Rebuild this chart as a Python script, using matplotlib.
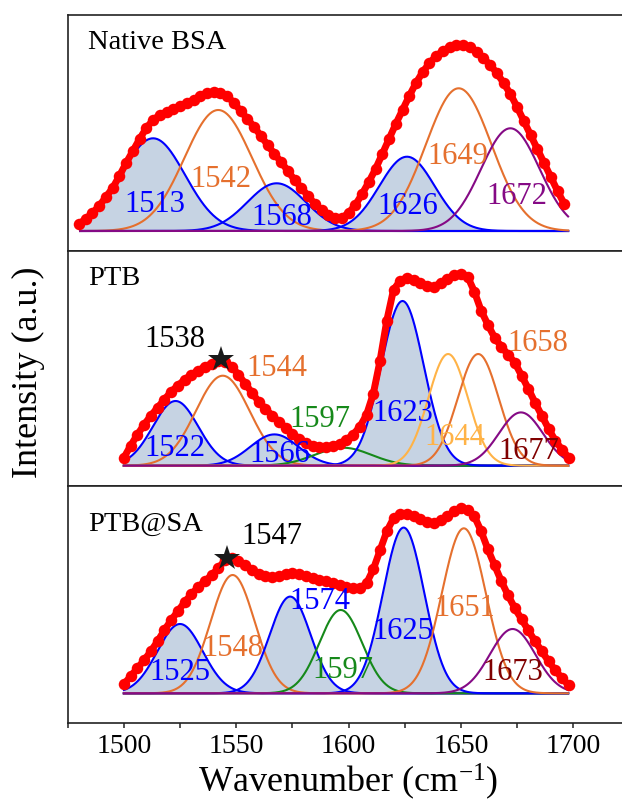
import numpy as np
import matplotlib.pyplot as plt
from matplotlib.ticker import MultipleLocator

plt.rcParams['font.family'] = 'Liberation Serif'
plt.rcParams['mathtext.fontset'] = 'custom'
plt.rcParams['mathtext.rm'] = 'Liberation Serif'
plt.rcParams['mathtext.default'] = 'regular'

BLUE = '#0000ff'
FILL = '#c6d3e3'
ORANGE = '#e5702e'
LORANGE = '#ffb347'
GREEN = '#16891a'
PURPLE = '#850a85'
DKRED = '#800000'

# ---- Native BSA ----
wn1 = np.arange(1480, 1697, 3)
red1 = [0.07, 0.12, 0.18, 0.25, 0.34, 0.43, 0.55, 0.68, 0.80, 0.92, 1.03, 1.11, 1.16,
        1.19, 1.22, 1.25, 1.28, 1.31, 1.35, 1.38, 1.39, 1.38, 1.35, 1.28, 1.20, 1.12,
        1.04, 0.95, 0.86, 0.77, 0.69, 0.60, 0.51, 0.43, 0.35, 0.27, 0.21, 0.16, 0.13,
        0.13, 0.18, 0.26, 0.37, 0.49, 0.62, 0.77, 0.92, 1.07, 1.21, 1.35, 1.48, 1.59,
        1.68, 1.75, 1.80, 1.84, 1.86, 1.86, 1.84, 1.79, 1.73, 1.66, 1.58, 1.48, 1.37,
        1.24, 1.10, 0.96, 0.82, 0.68, 0.54, 0.40, 0.27]
cen1 = [1513, 1542, 1568, 1626, 1649, 1672]
hgt1 = [0.927, 1.21, 0.477, 0.743, 1.427, 1.027]
sig1 = [14.2, 15.0, 13.0, 12.3, 14.6, 13.0]
col1 = [BLUE, ORANGE, BLUE, BLUE, ORANGE, PURPLE]
lab1 = ['1513', '1542', '1568', '1626', '1649', '1672']
labx1 = [1513.8, 1543.3, 1570.4, 1626.2, 1648.5, 1674.9]
laby1 = [0.26, 0.51, 0.13, 0.24, 0.74, 0.34]
labc1 = [BLUE, ORANGE, BLUE, BLUE, ORANGE, PURPLE]

# ---- PTB ----
wn2 = np.arange(1500, 1699, 3)
red2 = [0.08, 0.20, 0.31, 0.41, 0.50, 0.58, 0.66, 0.74, 0.80, 0.86, 0.91, 0.95, 0.99,
        1.02, 1.05, 1.04, 0.99, 0.91, 0.82, 0.73, 0.64, 0.57, 0.50, 0.44, 0.38, 0.32,
        0.27, 0.23, 0.20, 0.19, 0.19, 0.20, 0.22, 0.26, 0.31, 0.39, 0.51, 0.72, 1.05,
        1.45, 1.76, 1.85, 1.88, 1.86, 1.83, 1.80, 1.79, 1.83, 1.87, 1.91, 1.92, 1.89,
        1.74, 1.55, 1.41, 1.28, 1.19, 1.11, 1.03, 0.90, 0.77, 0.63, 0.50, 0.37, 0.25,
        0.16, 0.08]
cen2 = [1523, 1544, 1567, 1597.5, 1624, 1644.3, 1657.7, 1676.7]
hgt2 = [0.647, 0.90, 0.313, 0.18, 1.647, 1.117, 1.117, 0.533]
sig2 = [10.1, 12.0, 10.7, 12.6, 9.5, 8.8, 9.1, 9.8]
col2 = [BLUE, ORANGE, BLUE, GREEN, BLUE, LORANGE, ORANGE, PURPLE]
lab2 = ['1538', '1544', '1522', '1566', '1597', '1623', '1644', '1658', '1677']
labx2 = [1522.7, 1568.0, 1522.7, 1569.4, 1587.2, 1624.3, 1647.3, 1684.4, 1680.0]
laby2 = [1.26, 0.97, 0.17, 0.11, 0.46, 0.52, 0.28, 1.22, 0.14]
labc2 = ['black', ORANGE, BLUE, BLUE, GREEN, BLUE, LORANGE, ORANGE, DKRED]
star2 = (1543.1, 1.067)

# ---- PTB@SA ----
wn3 = np.arange(1500, 1699, 3)
red3 = [0.09, 0.17, 0.25, 0.33, 0.42, 0.52, 0.63, 0.73, 0.82, 0.91, 0.99, 1.06, 1.12,
        1.18, 1.25, 1.33, 1.35, 1.32, 1.28, 1.23, 1.19, 1.17, 1.16, 1.17, 1.19, 1.20,
        1.19, 1.17, 1.15, 1.13, 1.12, 1.10, 1.08, 1.06, 1.05, 1.05, 1.10, 1.24, 1.43,
        1.62, 1.75, 1.79, 1.79, 1.77, 1.74, 1.71, 1.70, 1.73, 1.77, 1.82, 1.85, 1.83,
        1.77, 1.62, 1.44, 1.28, 1.12, 0.98, 0.85, 0.74, 0.63, 0.52, 0.42, 0.32, 0.23,
        0.15, 0.08]
cen3 = [1525, 1548.4, 1574, 1596.5, 1624.5, 1651.3, 1673]
hgt3 = [0.693, 1.183, 0.967, 0.833, 1.657, 1.65, 0.643]
sig3 = [10.1, 9.8, 9.1, 9.5, 9.2, 9.8, 10.1]
col3 = [BLUE, ORANGE, BLUE, GREEN, BLUE, ORANGE, PURPLE]
lab3 = ['1547', '1548', '1525', '1574', '1597', '1625', '1651', '1673']
labx3 = [1565.7, 1548.6, 1524.9, 1587.2, 1597.6, 1624.3, 1651.8, 1673.3]
laby3 = [1.57, 0.45, 0.21, 0.92, 0.23, 0.62, 0.85, 0.21]
labc3 = ['black', ORANGE, BLUE, BLUE, GREEN, BLUE, ORANGE, DKRED]
star3 = (1545.7, 1.35)

titles = ['Native BSA', 'PTB', 'PTB@SA']


def gauss(x, c, h, s):
    return h * np.exp(-(x - c) ** 2 / (2 * s * s))


W, H = 622, 806
fig = plt.figure(figsize=(W / 100, H / 100), dpi=100)

# panel boxes in pixels: (top, bottom), plus ylim and title height
boxes = [(15, 250.7), (250.7, 486), (486, 723)]
ylims = [(-0.197, 2.16), (-0.203, 2.15), (-0.297, 2.073)]
title_y = [0.884, 0.883, 0.84]
x_left_px = 67.7
x_scale = 2.247  # px per cm-1
xmin, xmax = 1475, 1725

panels = [
    (wn1, red1, cen1, hgt1, sig1, col1, lab1, labx1, laby1, labc1, None, 1480.5),
    (wn2, red2, cen2, hgt2, sig2, col2, lab2, labx2, laby2, labc2, star2, 1500),
    (wn3, red3, cen3, hgt3, sig3, col3, lab3, labx3, laby3, labc3, star3, 1500),
]

for i, (wn, red, cen, hgt, sig, col, lab, labx, laby, labc, star, x0) in enumerate(panels):
    top, bot = boxes[i]
    rect = [x_left_px / W, 1 - bot / H, (xmax - xmin) * x_scale / W, (bot - top) / H]
    ax = fig.add_axes(rect)
    xg = np.linspace(x0, 1697.7, 800)

    for c, h, s, cc in zip(cen, hgt, sig, col):
        if cc == BLUE:
            ax.fill_between(xg, 0, gauss(xg, c, h, s), color=FILL, lw=0, zorder=1)
    for c, h, s, cc in zip(cen, hgt, sig, col):
        ax.plot(xg, gauss(xg, c, h, s), color=cc, lw=1.5, zorder=2)

    ax.plot(wn, red, '-', color='#ff0000', lw=5, zorder=3, solid_capstyle='round')
    ax.plot(wn, red, 'o', color='#ff0000', ms=8.3, mew=0, zorder=3)
    if star is not None:
        ax.plot(star[0], star[1], '*', color='#1a1a1a', ms=19, mew=0, zorder=4)

    for t, tx, ty, tc in zip(lab, labx, laby, labc):
        ax.text(tx, ty, t, color=tc, fontsize=22, ha='center', va='center', zorder=5)

    ax.text(0.036, title_y[i], titles[i], transform=ax.transAxes, fontsize=20.5,
            ha='left', va='center')

    ax.set_xlim(xmin, xmax)
    ax.set_ylim(*ylims[i])
    ax.set_yticks([])
    ax.spines['right'].set_visible(False)
    for sp in ax.spines.values():
        sp.set_linewidth(1.2)
        sp.set_color('#222222')
    ax.xaxis.set_major_locator(MultipleLocator(50))
    ax.xaxis.set_minor_locator(MultipleLocator(25))
    if i < 2:
        ax.tick_params(axis='x', which='both', bottom=False, labelbottom=False)
    else:
        ax.tick_params(axis='x', which='both', direction='out', length=3.6, width=1.1,
                       labelsize=20, pad=4, color='#222222')

fig.text(28 / W, 1 - 372 / H, 'Intensity (a.u.)', rotation=90, fontsize=26,
         ha='center', va='center')
fig.text(348 / W, 1 - 782 / H, 'Wavenumber (cm$^{-1}$)', fontsize=26,
         ha='center', va='center')

fig.savefig('out.png', dpi=100)
